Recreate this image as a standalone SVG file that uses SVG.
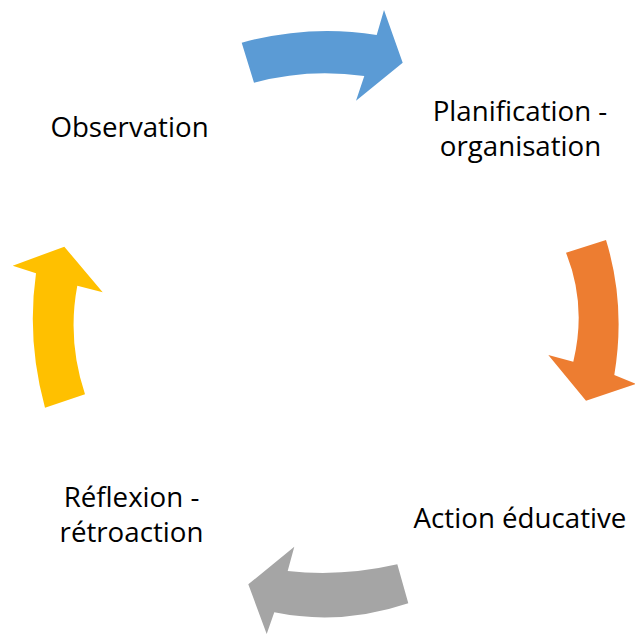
<svg xmlns="http://www.w3.org/2000/svg" width="635" height="634" viewBox="0 0 635 634">
<style>
  text { font-family: "Open Sans", "Noto Sans", "Liberation Sans", sans-serif; font-size: 27.7px; fill: #000; text-anchor: middle; }
  .blue { fill: #5B9BD5; }
  .orange { fill: #ED7D31; }
  .gray { fill: #A5A5A5; }
  .yellow { fill: #FFC000; }
</style>
<rect width="635" height="634" fill="#fff"/>
<g id="connectors">
  <path id="arrow-blue" class="blue" d="M241.7,42.7 Q310,24 376.7,35 L384,10 L402.7,62.7 L356,100.7 L364.3,76 Q308,68 254,82.7 Z"/>
  <path id="arrow-orange" class="orange" d="M566,252.7 L606,240 Q626,305 614.3,375 L636,384 L586,400.7 L548.3,355 L573.3,361.7 Q587,305 566,252.7 Z"/>
  <path id="arrow-gray" class="gray" d="M397.3,564.3 L408.3,603.3 Q341,626 274.3,612.3 L266.7,634 L248.3,584.3 L294.3,546.7 L287.7,571 Q342,577 397.3,564.3 Z"/>
  <path id="arrow-yellow" class="yellow" d="M45,407.7 L85,394.3 Q67,340 77.3,285.7 L102.7,292.3 L64.3,246.7 L12.7,265.7 L36,273.3 Q26.5,340 45,407.7 Z"/>
</g>
<g id="node-observation"><text x="129.5" y="136.7">Observation</text></g>
<g id="node-planification"><text x="520" y="120.7">Planification -<tspan x="520.5" y="156">organisation</tspan></text></g>
<g id="node-action"><text x="520" y="528.3">Action éducative</text></g>
<g id="node-reflexion"><text x="131.5" y="506.7">Réflexion -<tspan x="131.5" y="541.7">rétroaction</tspan></text></g>
</svg>
